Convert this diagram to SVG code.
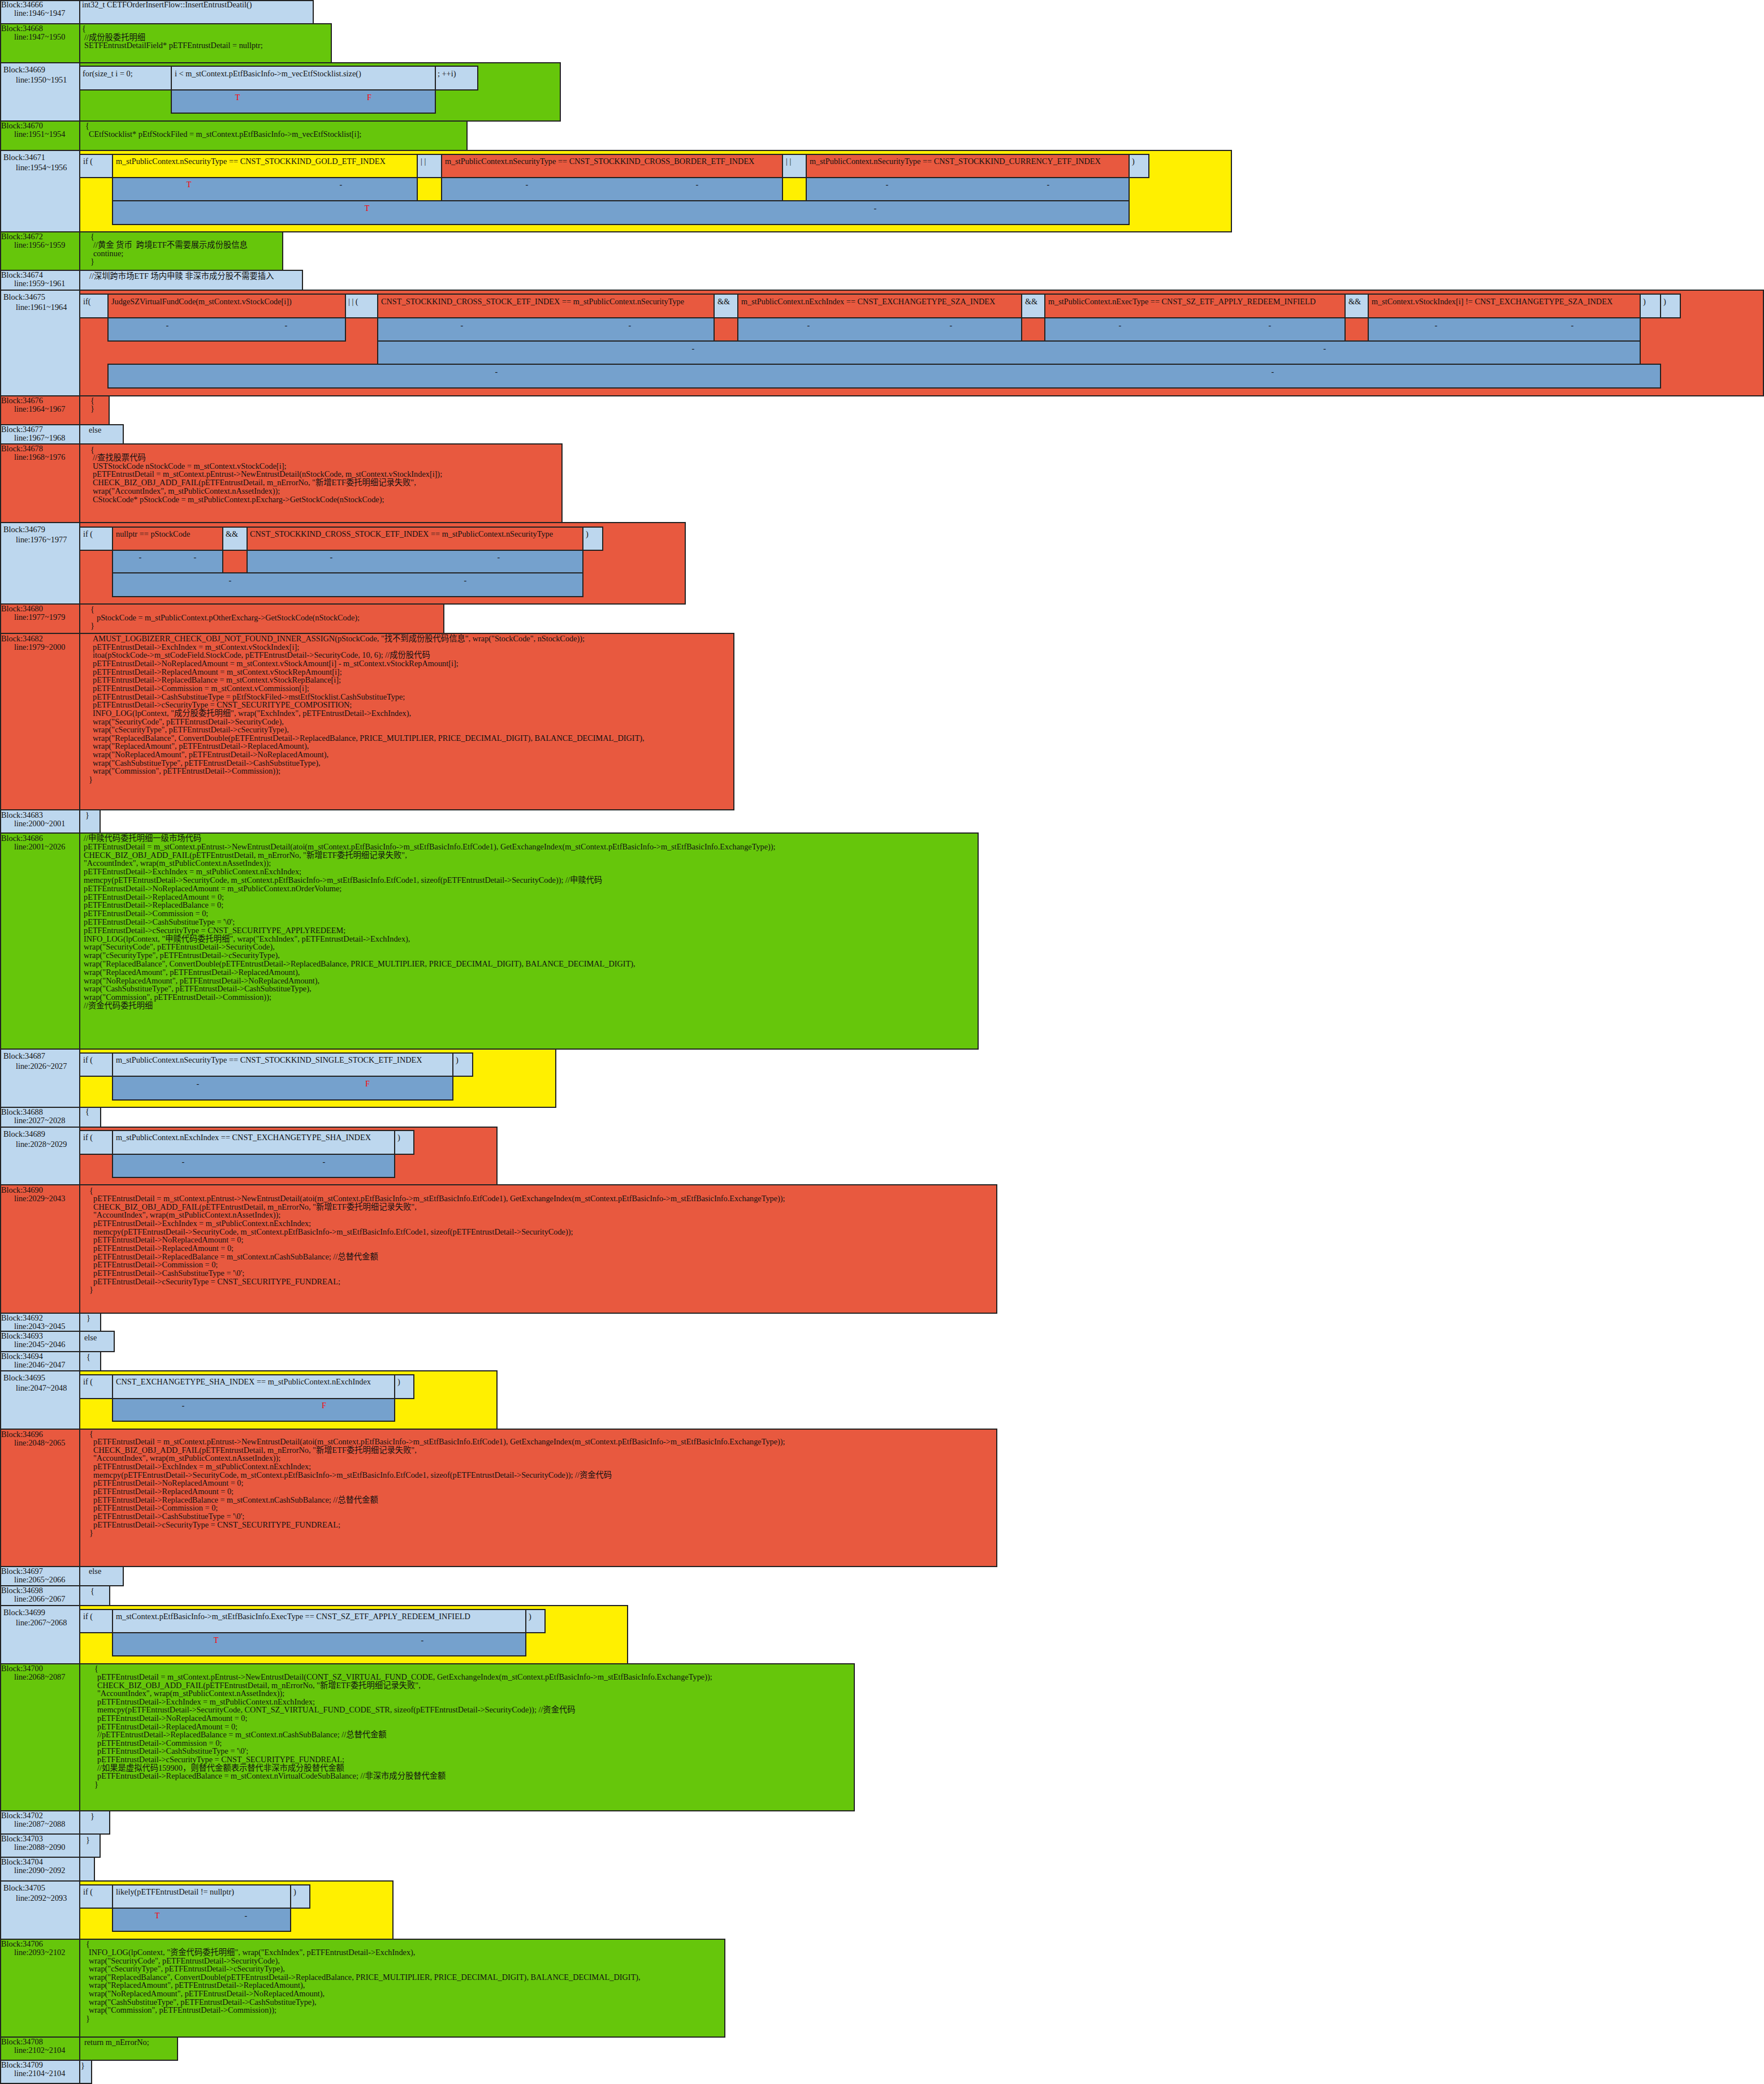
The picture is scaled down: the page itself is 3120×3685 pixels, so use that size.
<svg xmlns="http://www.w3.org/2000/svg" width="3120" height="3685" viewBox="0 0 3120 3685">
<style>
rect{stroke:#222;stroke-width:2}
.bg{fill:#fff;stroke:none}
.lb{fill:#BDD7EE}.gr{fill:#66C60B}.ye{fill:#FFF000}.rd{fill:#E8593F}.mb{fill:#75A1CD}
text{font-family:"Liberation Serif","Noto Sans CJK SC",serif;font-size:14.3px;fill:#111;white-space:pre}
.t{fill:#f00}.m{text-anchor:middle}
</style>
<rect class="bg" x="0" y="0" width="3120" height="3685"/>
<g id="connectors"/>

<g id="b34666">
<rect class="lb" x="1" y="1" width="140" height="41"/><rect class="lb" x="141" y="1" width="413" height="41"/>
<text x="2" y="13">Block:34666</text><text x="25" y="28">line:1946~1947</text>
<text x="145" y="13">int32_t CETFOrderInsertFlow::InsertEntrustDeatil()</text>
</g>

<g id="b34668">
<rect class="gr" x="1" y="42" width="140" height="69"/><rect class="gr" x="141" y="42" width="445" height="69"/>
<text x="2" y="55">Block:34668</text><text x="25" y="70">line:1947~1950</text>
<text x="145" y="55">{</text><text x="149" y="71">//成份股委托明细</text><text x="149" y="85">SETFEntrustDetailField* pETFEntrustDetail = nullptr;</text>
</g>

<g id="b34669">
<rect class="lb" x="1" y="111" width="140" height="103"/><rect class="gr" x="141" y="111" width="850" height="103"/>
<text x="6" y="128">Block:34669</text><text x="28" y="146">line:1950~1951</text>
<rect class="lb" x="141" y="117" width="162" height="42"/><rect class="lb" x="303" y="117" width="467" height="42"/><rect class="lb" x="770" y="117" width="75" height="42"/>
<text x="146" y="135">for(size_t i = 0;</text><text x="309" y="135">i &lt; m_stContext.pEtfBasicInfo-&gt;m_vecEtfStocklist.size()</text><text x="774" y="135">; ++i)</text>
<rect class="mb" x="303" y="159" width="467" height="41"/>
<text class="m t" x="420" y="177">T</text><text class="m t" x="653" y="177">F</text>
</g>

<g id="b34670">
<rect class="gr" x="1" y="214" width="140" height="52"/><rect class="gr" x="141" y="214" width="685" height="52"/>
<text x="2" y="227">Block:34670</text><text x="25" y="242">line:1951~1954</text>
<text x="151" y="227">{</text><text x="157" y="242">CEtfStocklist* pEtfStockFiled = m_stContext.pEtfBasicInfo-&gt;m_vecEtfStocklist[i];</text>
</g>

<g id="b34671">
<rect class="lb" x="1" y="266" width="140" height="144"/><rect class="ye" x="141" y="266" width="2037" height="144"/>
<text x="6" y="283">Block:34671</text><text x="28" y="301">line:1954~1956</text>
<rect class="lb" x="141" y="273" width="58" height="41"/>
<rect class="ye" x="199" y="273" width="539" height="41"/>
<rect class="lb" x="738" y="273" width="43" height="41"/>
<rect class="rd" x="781" y="273" width="603" height="41"/>
<rect class="lb" x="1384" y="273" width="42" height="41"/>
<rect class="rd" x="1426" y="273" width="571" height="41"/>
<rect class="lb" x="1997" y="273" width="35" height="41"/>
<text x="147" y="290">if (</text>
<text x="205" y="290">m_stPublicContext.nSecurityType == CNST_STOCKKIND_GOLD_ETF_INDEX</text>
<text x="744" y="290">| |</text>
<text x="787" y="290">m_stPublicContext.nSecurityType == CNST_STOCKKIND_CROSS_BORDER_ETF_INDEX</text>
<text x="1390" y="290">| |</text>
<text x="1432" y="290">m_stPublicContext.nSecurityType == CNST_STOCKKIND_CURRENCY_ETF_INDEX</text>
<text x="2002" y="290">)</text>
<rect class="mb" x="199" y="314" width="539" height="41"/>
<rect class="mb" x="781" y="314" width="603" height="41"/>
<rect class="mb" x="1426" y="314" width="571" height="41"/>
<text class="m t" x="334" y="331">T</text><text class="m" x="603" y="331">-</text>
<text class="m" x="932" y="331">-</text><text class="m" x="1233" y="331">-</text>
<text class="m" x="1569" y="331">-</text><text class="m" x="1854" y="331">-</text>
<rect class="mb" x="199" y="355" width="1798" height="42"/>
<text class="m t" x="649" y="373">T</text><text class="m" x="1548" y="373">-</text>
</g>

<g id="b34672">
<rect class="gr" x="1" y="410" width="140" height="68"/><rect class="gr" x="141" y="410" width="359" height="68"/>
<text x="2" y="423">Block:34672</text><text x="25" y="438">line:1956~1959</text>
<text x="160" y="423">{</text><text x="165" y="438">//黄金 货币  跨境ETF不需要展示成份股信息</text><text x="165" y="453">continue;</text><text x="160" y="467">}</text>
</g>

<g id="b34674">
<rect class="lb" x="1" y="478" width="140" height="35"/><rect class="lb" x="141" y="478" width="394" height="35"/>
<text x="2" y="491">Block:34674</text><text x="25" y="506">line:1959~1961</text>
<text x="158" y="493">//深圳跨市场ETF 场内申赎 非深市成分股不需要插入</text>
</g>

<g id="b34675">
<rect class="lb" x="1" y="513" width="140" height="187"/><rect class="rd" x="141" y="513" width="2978" height="187"/>
<text x="6" y="530">Block:34675</text><text x="28" y="548">line:1961~1964</text>
<rect class="lb" x="141" y="520" width="50" height="42"/>
<rect class="rd" x="191" y="520" width="420" height="42"/>
<rect class="lb" x="611" y="520" width="57" height="42"/>
<rect class="rd" x="668" y="520" width="595" height="42"/>
<rect class="lb" x="1263" y="520" width="42" height="42"/>
<rect class="rd" x="1305" y="520" width="502" height="42"/>
<rect class="lb" x="1807" y="520" width="41" height="42"/>
<rect class="rd" x="1848" y="520" width="531" height="42"/>
<rect class="lb" x="2379" y="520" width="41" height="42"/>
<rect class="rd" x="2420" y="520" width="481" height="42"/>
<rect class="lb" x="2901" y="520" width="36" height="42"/>
<rect class="lb" x="2937" y="520" width="35" height="42"/>
<text x="147" y="538">if(</text>
<text x="197" y="538">JudgeSZVirtualFundCode(m_stContext.vStockCode[i])</text>
<text x="616" y="538">| | (</text>
<text x="674" y="538">CNST_STOCKKIND_CROSS_STOCK_ETF_INDEX == m_stPublicContext.nSecurityType</text>
<text x="1269" y="538">&amp;&amp;</text>
<text x="1311" y="538">m_stPublicContext.nExchIndex == CNST_EXCHANGETYPE_SZA_INDEX</text>
<text x="1813" y="538">&amp;&amp;</text>
<text x="1854" y="538">m_stPublicContext.nExecType == CNST_SZ_ETF_APPLY_REDEEM_INFIELD</text>
<text x="2385" y="538">&amp;&amp;</text>
<text x="2426" y="538">m_stContext.vStockIndex[i] != CNST_EXCHANGETYPE_SZA_INDEX</text>
<text x="2906" y="538">)</text><text x="2942" y="538">)</text>
<rect class="mb" x="191" y="562" width="420" height="41"/>
<rect class="mb" x="668" y="562" width="595" height="41"/>
<rect class="mb" x="1305" y="562" width="502" height="41"/>
<rect class="mb" x="1848" y="562" width="531" height="41"/>
<rect class="mb" x="2420" y="562" width="481" height="41"/>
<text class="m" x="296" y="580">-</text><text class="m" x="506" y="580">-</text>
<text class="m" x="817" y="580">-</text><text class="m" x="1114" y="580">-</text>
<text class="m" x="1430" y="580">-</text><text class="m" x="1682" y="580">-</text>
<text class="m" x="1981" y="580">-</text><text class="m" x="2246" y="580">-</text>
<text class="m" x="2540" y="580">-</text><text class="m" x="2781" y="580">-</text>
<rect class="mb" x="668" y="603" width="2233" height="41"/>
<text class="m" x="1226" y="621">-</text><text class="m" x="2343" y="621">-</text>
<rect class="mb" x="191" y="644" width="2746" height="42"/>
<text class="m" x="878" y="662">-</text><text class="m" x="2251" y="662">-</text>
</g>

<g id="b34676">
<rect class="rd" x="1" y="700" width="140" height="51"/><rect class="rd" x="141" y="700" width="52" height="51"/>
<text x="2" y="713">Block:34676</text><text x="25" y="728">line:1964~1967</text>
<text x="160" y="713">{</text><text x="160" y="727">}</text>
</g>

<g id="b34677">
<rect class="lb" x="1" y="751" width="140" height="34"/><rect class="lb" x="141" y="751" width="77" height="34"/>
<text x="2" y="764">Block:34677</text><text x="25" y="779">line:1967~1968</text>
<text x="157" y="765">else</text>
</g>

<g id="b34678">
<rect class="rd" x="1" y="785" width="140" height="139"/><rect class="rd" x="141" y="785" width="853" height="139"/>
<text x="2" y="798">Block:34678</text><text x="25" y="813">line:1968~1976</text>
<text x="160" y="800">{</text>
<text x="164" y="814">//查找股票代码<tspan x="164" dy="14.7">USTStockCode nStockCode = m_stContext.vStockCode[i];</tspan><tspan x="164" dy="14.7">pETFEntrustDetail = m_stContext.pEntrust-&gt;NewEntrustDetail(nStockCode, m_stContext.vStockIndex[i]);</tspan><tspan x="164" dy="14.7">CHECK_BIZ_OBJ_ADD_FAIL(pETFEntrustDetail, m_nErrorNo, "新增ETF委托明细记录失败",</tspan><tspan x="164" dy="14.7">wrap("AccountIndex", m_stPublicContext.nAssetIndex));</tspan><tspan x="164" dy="14.7">CStockCode* pStockCode = m_stPublicContext.pExcharg-&gt;GetStockCode(nStockCode);</tspan></text>
</g>

<g id="b34679">
<rect class="lb" x="1" y="924" width="140" height="144"/><rect class="rd" x="141" y="924" width="1071" height="144"/>
<text x="6" y="941">Block:34679</text><text x="28" y="959">line:1976~1977</text>
<rect class="lb" x="141" y="932" width="58" height="41"/>
<rect class="rd" x="199" y="932" width="195" height="41"/>
<rect class="lb" x="394" y="932" width="43" height="41"/>
<rect class="rd" x="437" y="932" width="594" height="41"/>
<rect class="lb" x="1031" y="932" width="35" height="41"/>
<text x="147" y="949">if (</text><text x="205" y="949">nullptr == pStockCode</text><text x="399" y="949">&amp;&amp;</text>
<text x="442" y="949">CNST_STOCKKIND_CROSS_STOCK_ETF_INDEX == m_stPublicContext.nSecurityType</text><text x="1036" y="949">)</text>
<rect class="mb" x="199" y="973" width="195" height="40"/><rect class="mb" x="437" y="973" width="594" height="40"/>
<text class="m" x="248" y="990">-</text><text class="m" x="345" y="990">-</text><text class="m" x="586" y="990">-</text><text class="m" x="882" y="990">-</text>
<rect class="mb" x="199" y="1013" width="832" height="42"/>
<text class="m" x="407" y="1031">-</text><text class="m" x="823" y="1031">-</text>
</g>

<g id="b34680">
<rect class="rd" x="1" y="1068" width="140" height="52"/><rect class="rd" x="141" y="1068" width="644" height="52"/>
<text x="2" y="1081">Block:34680</text><text x="25" y="1096">line:1977~1979</text>
<text x="160" y="1082">{</text><text x="171" y="1097">pStockCode = m_stPublicContext.pOtherExcharg-&gt;GetStockCode(nStockCode);</text><text x="160" y="1111">}</text>
</g>

<g id="b34682">
<rect class="rd" x="1" y="1120" width="140" height="312"/><rect class="rd" x="141" y="1120" width="1157" height="312"/>
<text x="2" y="1134">Block:34682</text><text x="25" y="1149">line:1979~2000</text>
<text x="164" y="1134">AMUST_LOGBIZERR_CHECK_OBJ_NOT_FOUND_INNER_ASSIGN(pStockCode, "找不到成份股代码信息", wrap("StockCode", nStockCode));<tspan x="164" dy="14.65">pETFEntrustDetail-&gt;ExchIndex = m_stContext.vStockIndex[i];</tspan><tspan x="164" dy="14.65">itoa(pStockCode-&gt;m_stCodeField.StockCode, pETFEntrustDetail-&gt;SecurityCode, 10, 6); //成份股代码</tspan><tspan x="164" dy="14.65">pETFEntrustDetail-&gt;NoReplacedAmount = m_stContext.vStockAmount[i] - m_stContext.vStockRepAmount[i];</tspan><tspan x="164" dy="14.65">pETFEntrustDetail-&gt;ReplacedAmount = m_stContext.vStockRepAmount[i];</tspan><tspan x="164" dy="14.65">pETFEntrustDetail-&gt;ReplacedBalance = m_stContext.vStockRepBalance[i];</tspan><tspan x="164" dy="14.65">pETFEntrustDetail-&gt;Commission = m_stContext.vCommission[i];</tspan><tspan x="164" dy="14.65">pETFEntrustDetail-&gt;CashSubstitueType = pEtfStockFiled-&gt;mstEtfStocklist.CashSubstitueType;</tspan><tspan x="164" dy="14.65">pETFEntrustDetail-&gt;cSecurityType = CNST_SECURITYPE_COMPOSITION;</tspan><tspan x="164" dy="14.65">INFO_LOG(lpContext, "成分股委托明细", wrap("ExchIndex", pETFEntrustDetail-&gt;ExchIndex),</tspan><tspan x="164" dy="14.65">wrap("SecurityCode", pETFEntrustDetail-&gt;SecurityCode),</tspan><tspan x="164" dy="14.65">wrap("cSecurityType", pETFEntrustDetail-&gt;cSecurityType),</tspan><tspan x="164" dy="14.65">wrap("ReplacedBalance", ConvertDouble(pETFEntrustDetail-&gt;ReplacedBalance, PRICE_MULTIPLIER, PRICE_DECIMAL_DIGIT), BALANCE_DECIMAL_DIGIT),</tspan><tspan x="164" dy="14.65">wrap("ReplacedAmount", pETFEntrustDetail-&gt;ReplacedAmount),</tspan><tspan x="164" dy="14.65">wrap("NoReplacedAmount", pETFEntrustDetail-&gt;NoReplacedAmount),</tspan><tspan x="164" dy="14.65">wrap("CashSubstitueType", pETFEntrustDetail-&gt;CashSubstitueType),</tspan><tspan x="164" dy="14.65">wrap("Commission", pETFEntrustDetail-&gt;Commission));</tspan><tspan x="157" dy="14.65">}</tspan></text>
</g>

<g id="b34683">
<rect class="lb" x="1" y="1432" width="140" height="41"/><rect class="lb" x="141" y="1432" width="36" height="41"/>
<text x="2" y="1446">Block:34683</text><text x="25" y="1461">line:2000~2001</text>
<text x="151" y="1446">}</text>
</g>

<g id="b34686">
<rect class="gr" x="1" y="1473" width="140" height="382"/><rect class="gr" x="141" y="1473" width="1589" height="382"/>
<text x="2" y="1487">Block:34686</text><text x="25" y="1502">line:2001~2026</text>
<text x="148" y="1487">//申赎代码委托明细一级市场代码<tspan x="148" dy="14.8">pETFEntrustDetail = m_stContext.pEntrust-&gt;NewEntrustDetail(atoi(m_stContext.pEtfBasicInfo-&gt;m_stEtfBasicInfo.EtfCode1), GetExchangeIndex(m_stContext.pEtfBasicInfo-&gt;m_stEtfBasicInfo.ExchangeType));</tspan><tspan x="148" dy="14.8">CHECK_BIZ_OBJ_ADD_FAIL(pETFEntrustDetail, m_nErrorNo, "新增ETF委托明细记录失败",</tspan><tspan x="148" dy="14.8">"AccountIndex", wrap(m_stPublicContext.nAssetIndex));</tspan><tspan x="148" dy="14.8">pETFEntrustDetail-&gt;ExchIndex = m_stPublicContext.nExchIndex;</tspan><tspan x="148" dy="14.8">memcpy(pETFEntrustDetail-&gt;SecurityCode, m_stContext.pEtfBasicInfo-&gt;m_stEtfBasicInfo.EtfCode1, sizeof(pETFEntrustDetail-&gt;SecurityCode)); //申赎代码</tspan><tspan x="148" dy="14.8">pETFEntrustDetail-&gt;NoReplacedAmount = m_stPublicContext.nOrderVolume;</tspan><tspan x="148" dy="14.8">pETFEntrustDetail-&gt;ReplacedAmount = 0;</tspan><tspan x="148" dy="14.8">pETFEntrustDetail-&gt;ReplacedBalance = 0;</tspan><tspan x="148" dy="14.8">pETFEntrustDetail-&gt;Commission = 0;</tspan><tspan x="148" dy="14.8">pETFEntrustDetail-&gt;CashSubstitueType = '\0';</tspan><tspan x="148" dy="14.8">pETFEntrustDetail-&gt;cSecurityType = CNST_SECURITYPE_APPLYREDEEM;</tspan><tspan x="148" dy="14.8">INFO_LOG(lpContext, "申赎代码委托明细", wrap("ExchIndex", pETFEntrustDetail-&gt;ExchIndex),</tspan><tspan x="148" dy="14.8">wrap("SecurityCode", pETFEntrustDetail-&gt;SecurityCode),</tspan><tspan x="148" dy="14.8">wrap("cSecurityType", pETFEntrustDetail-&gt;cSecurityType),</tspan><tspan x="148" dy="14.8">wrap("ReplacedBalance", ConvertDouble(pETFEntrustDetail-&gt;ReplacedBalance, PRICE_MULTIPLIER, PRICE_DECIMAL_DIGIT), BALANCE_DECIMAL_DIGIT),</tspan><tspan x="148" dy="14.8">wrap("ReplacedAmount", pETFEntrustDetail-&gt;ReplacedAmount),</tspan><tspan x="148" dy="14.8">wrap("NoReplacedAmount", pETFEntrustDetail-&gt;NoReplacedAmount),</tspan><tspan x="148" dy="14.8">wrap("CashSubstitueType", pETFEntrustDetail-&gt;CashSubstitueType),</tspan><tspan x="148" dy="14.8">wrap("Commission", pETFEntrustDetail-&gt;Commission));</tspan><tspan x="148" dy="14.8">//资金代码委托明细</tspan></text>
</g>

<g id="b34687">
<rect class="lb" x="1" y="1855" width="140" height="103"/><rect class="ye" x="141" y="1855" width="842" height="103"/>
<text x="6" y="1872">Block:34687</text><text x="28" y="1890">line:2026~2027</text>
<rect class="lb" x="141" y="1862" width="58" height="41"/><rect class="lb" x="199" y="1862" width="602" height="41"/><rect class="lb" x="801" y="1862" width="35" height="41"/>
<text x="147" y="1879">if (</text><text x="205" y="1879">m_stPublicContext.nSecurityType == CNST_STOCKKIND_SINGLE_STOCK_ETF_INDEX</text><text x="806" y="1879">)</text>
<rect class="mb" x="199" y="1903" width="602" height="42"/>
<text class="m" x="350" y="1921">-</text><text class="m t" x="650" y="1921">F</text>
</g>

<g id="b34688">
<rect class="lb" x="1" y="1958" width="140" height="35"/><rect class="lb" x="141" y="1958" width="37" height="35"/>
<text x="2" y="1971">Block:34688</text><text x="25" y="1986">line:2027~2028</text>
<text x="151" y="1970">{</text>
</g>

<g id="b34689">
<rect class="lb" x="1" y="1993" width="140" height="102"/><rect class="rd" x="141" y="1993" width="738" height="102"/>
<text x="6" y="2010">Block:34689</text><text x="28" y="2028">line:2028~2029</text>
<rect class="lb" x="141" y="1999" width="58" height="42"/><rect class="lb" x="199" y="1999" width="499" height="42"/><rect class="lb" x="698" y="1999" width="34" height="42"/>
<text x="147" y="2016">if (</text><text x="205" y="2016">m_stPublicContext.nExchIndex == CNST_EXCHANGETYPE_SHA_INDEX</text><text x="703" y="2016">)</text>
<rect class="mb" x="199" y="2041" width="499" height="41"/>
<text class="m" x="324" y="2059">-</text><text class="m" x="573" y="2059">-</text>
</g>

<g id="b34690">
<rect class="rd" x="1" y="2095" width="140" height="227"/><rect class="rd" x="141" y="2095" width="1622" height="227"/>
<text x="2" y="2109">Block:34690</text><text x="25" y="2124">line:2029~2043</text>
<text x="158" y="2110">{</text>
<text x="165" y="2124">pETFEntrustDetail = m_stContext.pEntrust-&gt;NewEntrustDetail(atoi(m_stContext.pEtfBasicInfo-&gt;m_stEtfBasicInfo.EtfCode1), GetExchangeIndex(m_stContext.pEtfBasicInfo-&gt;m_stEtfBasicInfo.ExchangeType));<tspan x="165" dy="14.65">CHECK_BIZ_OBJ_ADD_FAIL(pETFEntrustDetail, m_nErrorNo, "新增ETF委托明细记录失败",</tspan><tspan x="165" dy="14.65">"AccountIndex", wrap(m_stPublicContext.nAssetIndex));</tspan><tspan x="165" dy="14.65">pETFEntrustDetail-&gt;ExchIndex = m_stPublicContext.nExchIndex;</tspan><tspan x="165" dy="14.65">memcpy(pETFEntrustDetail-&gt;SecurityCode, m_stContext.pEtfBasicInfo-&gt;m_stEtfBasicInfo.EtfCode1, sizeof(pETFEntrustDetail-&gt;SecurityCode));</tspan><tspan x="165" dy="14.65">pETFEntrustDetail-&gt;NoReplacedAmount = 0;</tspan><tspan x="165" dy="14.65">pETFEntrustDetail-&gt;ReplacedAmount = 0;</tspan><tspan x="165" dy="14.65">pETFEntrustDetail-&gt;ReplacedBalance = m_stContext.nCashSubBalance; //总替代金额</tspan><tspan x="165" dy="14.65">pETFEntrustDetail-&gt;Commission = 0;</tspan><tspan x="165" dy="14.65">pETFEntrustDetail-&gt;CashSubstitueType = '\0';</tspan><tspan x="165" dy="14.65">pETFEntrustDetail-&gt;cSecurityType = CNST_SECURITYPE_FUNDREAL;</tspan><tspan x="158" dy="14.65">}</tspan></text>
</g>

<g id="b34692">
<rect class="lb" x="1" y="2322" width="140" height="32"/><rect class="lb" x="141" y="2322" width="37" height="32"/>
<text x="2" y="2335">Block:34692</text><text x="25" y="2350">line:2043~2045</text>
<text x="153" y="2335">}</text>
</g>

<g id="b34693">
<rect class="lb" x="1" y="2354" width="140" height="36"/><rect class="lb" x="141" y="2354" width="61" height="36"/>
<text x="2" y="2367">Block:34693</text><text x="25" y="2382">line:2045~2046</text>
<text x="149" y="2370">else</text>
</g>

<g id="b34694">
<rect class="lb" x="1" y="2390" width="140" height="34"/><rect class="lb" x="141" y="2390" width="37" height="34"/>
<text x="2" y="2403">Block:34694</text><text x="25" y="2418">line:2046~2047</text>
<text x="153" y="2404">{</text>
</g>

<g id="b34695">
<rect class="lb" x="1" y="2424" width="140" height="103"/><rect class="ye" x="141" y="2424" width="738" height="103"/>
<text x="6" y="2441">Block:34695</text><text x="28" y="2459">line:2047~2048</text>
<rect class="lb" x="141" y="2431" width="58" height="42"/><rect class="lb" x="199" y="2431" width="499" height="42"/><rect class="lb" x="698" y="2431" width="34" height="42"/>
<text x="147" y="2448">if (</text><text x="205" y="2448">CNST_EXCHANGETYPE_SHA_INDEX == m_stPublicContext.nExchIndex</text><text x="703" y="2448">)</text>
<rect class="mb" x="199" y="2473" width="499" height="40"/>
<text class="m" x="324" y="2490">-</text><text class="m t" x="573" y="2490">F</text>
</g>

<g id="b34696">
<rect class="rd" x="1" y="2527" width="140" height="243"/><rect class="rd" x="141" y="2527" width="1622" height="243"/>
<text x="2" y="2541">Block:34696</text><text x="25" y="2556">line:2048~2065</text>
<text x="158" y="2540">{</text>
<text x="165" y="2554">pETFEntrustDetail = m_stContext.pEntrust-&gt;NewEntrustDetail(atoi(m_stContext.pEtfBasicInfo-&gt;m_stEtfBasicInfo.EtfCode1), GetExchangeIndex(m_stContext.pEtfBasicInfo-&gt;m_stEtfBasicInfo.ExchangeType));<tspan x="165" dy="14.65">CHECK_BIZ_OBJ_ADD_FAIL(pETFEntrustDetail, m_nErrorNo, "新增ETF委托明细记录失败",</tspan><tspan x="165" dy="14.65">"AccountIndex", wrap(m_stPublicContext.nAssetIndex));</tspan><tspan x="165" dy="14.65">pETFEntrustDetail-&gt;ExchIndex = m_stPublicContext.nExchIndex;</tspan><tspan x="165" dy="14.65">memcpy(pETFEntrustDetail-&gt;SecurityCode, m_stContext.pEtfBasicInfo-&gt;m_stEtfBasicInfo.EtfCode1, sizeof(pETFEntrustDetail-&gt;SecurityCode)); //资金代码</tspan><tspan x="165" dy="14.65">pETFEntrustDetail-&gt;NoReplacedAmount = 0;</tspan><tspan x="165" dy="14.65">pETFEntrustDetail-&gt;ReplacedAmount = 0;</tspan><tspan x="165" dy="14.65">pETFEntrustDetail-&gt;ReplacedBalance = m_stContext.nCashSubBalance; //总替代金额</tspan><tspan x="165" dy="14.65">pETFEntrustDetail-&gt;Commission = 0;</tspan><tspan x="165" dy="14.65">pETFEntrustDetail-&gt;CashSubstitueType = '\0';</tspan><tspan x="165" dy="14.65">pETFEntrustDetail-&gt;cSecurityType = CNST_SECURITYPE_FUNDREAL;</tspan><tspan x="158" dy="14.65">}</tspan></text>
</g>

<g id="b34697">
<rect class="lb" x="1" y="2770" width="140" height="34"/><rect class="lb" x="141" y="2770" width="77" height="34"/>
<text x="2" y="2783">Block:34697</text><text x="25" y="2798">line:2065~2066</text>
<text x="157" y="2783">else</text>
</g>

<g id="b34698">
<rect class="lb" x="1" y="2804" width="140" height="35"/><rect class="lb" x="141" y="2804" width="53" height="35"/>
<text x="2" y="2817">Block:34698</text><text x="25" y="2832">line:2066~2067</text>
<text x="160" y="2818">{</text>
</g>

<g id="b34699">
<rect class="lb" x="1" y="2839" width="140" height="103"/><rect class="ye" x="141" y="2839" width="969" height="103"/>
<text x="6" y="2856">Block:34699</text><text x="28" y="2874">line:2067~2068</text>
<rect class="lb" x="141" y="2846" width="58" height="41"/><rect class="lb" x="199" y="2846" width="731" height="41"/><rect class="lb" x="930" y="2846" width="34" height="41"/>
<text x="147" y="2863">if (</text><text x="205" y="2863">m_stContext.pEtfBasicInfo-&gt;m_stEtfBasicInfo.ExecType == CNST_SZ_ETF_APPLY_REDEEM_INFIELD</text><text x="935" y="2863">)</text>
<rect class="mb" x="199" y="2887" width="731" height="41"/>
<text class="m t" x="382" y="2905">T</text><text class="m" x="747" y="2905">-</text>
</g>

<g id="b34700">
<rect class="gr" x="1" y="2942" width="140" height="260"/><rect class="gr" x="141" y="2942" width="1370" height="260"/>
<text x="2" y="2955">Block:34700</text><text x="25" y="2970">line:2068~2087</text>
<text x="167" y="2955">{</text>
<text x="172" y="2970">pETFEntrustDetail = m_stContext.pEntrust-&gt;NewEntrustDetail(CONT_SZ_VIRTUAL_FUND_CODE, GetExchangeIndex(m_stContext.pEtfBasicInfo-&gt;m_stEtfBasicInfo.ExchangeType));<tspan x="172" dy="14.6">CHECK_BIZ_OBJ_ADD_FAIL(pETFEntrustDetail, m_nErrorNo, "新增ETF委托明细记录失败",</tspan><tspan x="172" dy="14.6">"AccountIndex", wrap(m_stPublicContext.nAssetIndex));</tspan><tspan x="172" dy="14.6">pETFEntrustDetail-&gt;ExchIndex = m_stPublicContext.nExchIndex;</tspan><tspan x="172" dy="14.6">memcpy(pETFEntrustDetail-&gt;SecurityCode, CONT_SZ_VIRTUAL_FUND_CODE_STR, sizeof(pETFEntrustDetail-&gt;SecurityCode)); //资金代码</tspan><tspan x="172" dy="14.6">pETFEntrustDetail-&gt;NoReplacedAmount = 0;</tspan><tspan x="172" dy="14.6">pETFEntrustDetail-&gt;ReplacedAmount = 0;</tspan><tspan x="172" dy="14.6">//pETFEntrustDetail-&gt;ReplacedBalance = m_stContext.nCashSubBalance; //总替代金额</tspan><tspan x="172" dy="14.6">pETFEntrustDetail-&gt;Commission = 0;</tspan><tspan x="172" dy="14.6">pETFEntrustDetail-&gt;CashSubstitueType = '\0';</tspan><tspan x="172" dy="14.6">pETFEntrustDetail-&gt;cSecurityType = CNST_SECURITYPE_FUNDREAL;</tspan><tspan x="172" dy="14.6">//如果是虚拟代码159900，则替代金额表示替代非深市成分股替代金额</tspan><tspan x="172" dy="14.6">pETFEntrustDetail-&gt;ReplacedBalance = m_stContext.nVirtualCodeSubBalance; //非深市成分股替代金额</tspan><tspan x="167" dy="14.6">}</tspan></text>
</g>

<g id="b34702">
<rect class="lb" x="1" y="3202" width="140" height="41"/><rect class="lb" x="141" y="3202" width="53" height="41"/>
<text x="2" y="3215">Block:34702</text><text x="25" y="3230">line:2087~2088</text>
<text x="160" y="3216">}</text>
</g>

<g id="b34703">
<rect class="lb" x="1" y="3243" width="140" height="41"/><rect class="lb" x="141" y="3243" width="36" height="41"/>
<text x="2" y="3256">Block:34703</text><text x="25" y="3271">line:2088~2090</text>
<text x="152" y="3258">}</text>
</g>

<g id="b34704">
<rect class="lb" x="1" y="3284" width="140" height="42"/><rect class="lb" x="141" y="3284" width="26" height="42"/>
<text x="2" y="3297">Block:34704</text><text x="25" y="3312">line:2090~2092</text>
</g>

<g id="b34705">
<rect class="lb" x="1" y="3326" width="140" height="103"/><rect class="ye" x="141" y="3326" width="554" height="103"/>
<text x="6" y="3343">Block:34705</text><text x="28" y="3361">line:2092~2093</text>
<rect class="lb" x="141" y="3333" width="58" height="41"/><rect class="lb" x="199" y="3333" width="315" height="41"/><rect class="lb" x="514" y="3333" width="34" height="41"/>
<text x="147" y="3350">if (</text><text x="205" y="3350">likely(pETFEntrustDetail != nullptr)</text><text x="519" y="3350">)</text>
<rect class="mb" x="199" y="3374" width="315" height="41"/>
<text class="m t" x="278" y="3392">T</text><text class="m" x="435" y="3392">-</text>
</g>

<g id="b34706">
<rect class="gr" x="1" y="3429" width="140" height="173"/><rect class="gr" x="141" y="3429" width="1141" height="173"/>
<text x="2" y="3442">Block:34706</text><text x="25" y="3457">line:2093~2102</text>
<text x="152" y="3442">{</text>
<text x="157" y="3457">INFO_LOG(lpContext, "资金代码委托明细", wrap("ExchIndex", pETFEntrustDetail-&gt;ExchIndex),<tspan x="157" dy="14.6">wrap("SecurityCode", pETFEntrustDetail-&gt;SecurityCode),</tspan><tspan x="157" dy="14.6">wrap("cSecurityType", pETFEntrustDetail-&gt;cSecurityType),</tspan><tspan x="157" dy="14.6">wrap("ReplacedBalance", ConvertDouble(pETFEntrustDetail-&gt;ReplacedBalance, PRICE_MULTIPLIER, PRICE_DECIMAL_DIGIT), BALANCE_DECIMAL_DIGIT),</tspan><tspan x="157" dy="14.6">wrap("ReplacedAmount", pETFEntrustDetail-&gt;ReplacedAmount),</tspan><tspan x="157" dy="14.6">wrap("NoReplacedAmount", pETFEntrustDetail-&gt;NoReplacedAmount),</tspan><tspan x="157" dy="14.6">wrap("CashSubstitueType", pETFEntrustDetail-&gt;CashSubstitueType),</tspan><tspan x="157" dy="14.6">wrap("Commission", pETFEntrustDetail-&gt;Commission));</tspan><tspan x="152" dy="14.6">}</tspan></text>
</g>

<g id="b34708">
<rect class="gr" x="1" y="3602" width="140" height="41"/><rect class="gr" x="141" y="3602" width="173" height="41"/>
<text x="2" y="3615">Block:34708</text><text x="25" y="3630">line:2102~2104</text>
<text x="149" y="3616">return m_nErrorNo;</text>
</g>

<g id="b34709">
<rect class="lb" x="1" y="3643" width="140" height="41"/><rect class="lb" x="141" y="3643" width="21" height="41"/>
<text x="2" y="3656">Block:34709</text><text x="25" y="3671">line:2104~2104</text>
<text x="143" y="3657">}</text>
</g>
</svg>
